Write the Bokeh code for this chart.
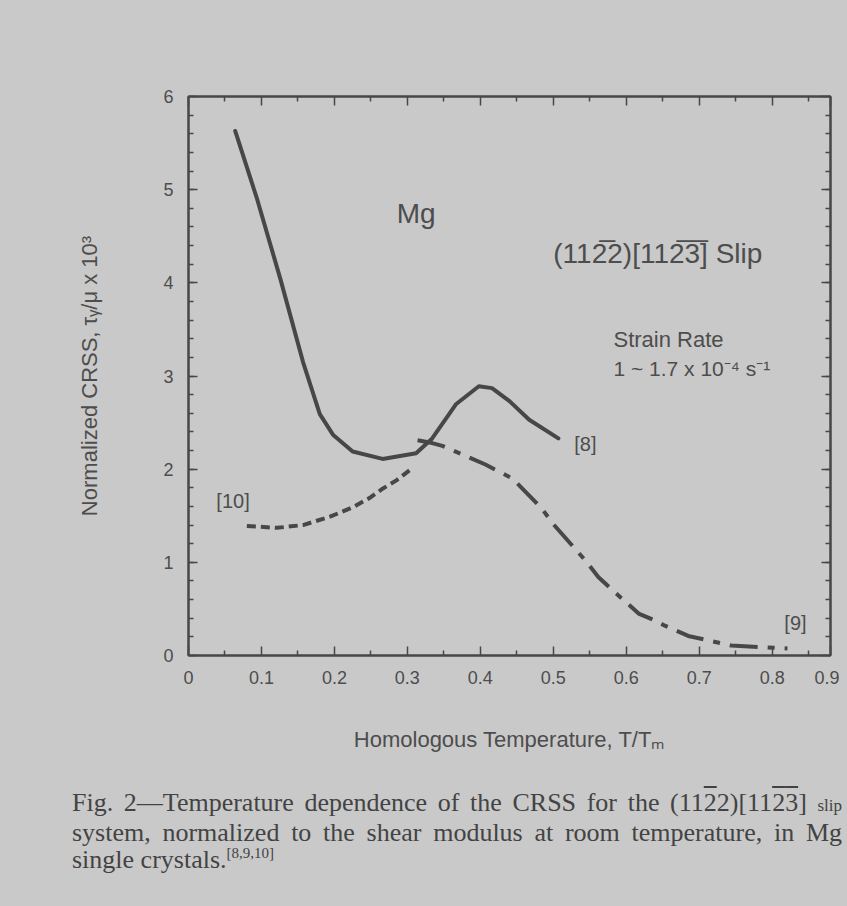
import numpy as np
from bokeh.plotting import figure
from bokeh.models import (LinearAxis, FixedTicker, Label, Div, GlobalInlineStyleSheet,
                          CustomLabelingPolicy)
from bokeh.layouts import column
from bokeh.embed import file_html
from bokeh.resources import INLINE

# ---- data ----
# [8] solid curve
x_ref8 = [0.064, 0.094, 0.126, 0.157, 0.180, 0.198, 0.225, 0.266, 0.312, 0.334,
          0.367, 0.398, 0.416, 0.440, 0.467, 0.507]
y_ref8 = [5.63, 4.90, 4.04, 3.15, 2.59, 2.37, 2.19, 2.11, 2.17, 2.33,
          2.70, 2.89, 2.87, 2.73, 2.53, 2.33]
# [9] dash-dot curve
x_ref9 = [0.314, 0.334, 0.348, 0.407, 0.444, 0.484, 0.500, 0.544, 0.562, 0.580,
          0.617, 0.635, 0.653, 0.685, 0.744, 0.821]
y_ref9 = [2.31, 2.28, 2.25, 2.05, 1.90, 1.58, 1.41, 1.02, 0.84, 0.71,
          0.45, 0.39, 0.32, 0.21, 0.107, 0.075]
# [10] dashed curve
x_ref10 = [0.080, 0.121, 0.157, 0.194, 0.225, 0.248, 0.266, 0.285, 0.305]
y_ref10 = [1.39, 1.37, 1.40, 1.49, 1.59, 1.69, 1.79, 1.88, 2.00]

x_tick_values = [0.0, 0.1, 0.2, 0.3, 0.4, 0.5, 0.6, 0.7, 0.8, 0.88]
x_tick_labels = ["0", "0.1", "0.2", "0.3", "0.4", "0.5", "0.6", "0.7", "0.8", "0.9"]
y_tick_values = [0, 1, 2, 3, 4, 5, 6]
y_tick_labels = ["0", "1", "2", "3", "4", "5", "6"]

BG = "#c9c9c9"
INK = "#474747"
TXT = "#4d4d4d"
SANS = "Liberation Sans"

p = figure(width=839, height=784, x_range=(0, 0.88), y_range=(0, 6),
           output_backend="svg", toolbar_location=None, title=None,
           min_border_left=188, min_border_right=6, min_border_top=96,
           min_border_bottom=129)
p.stylesheets = [GlobalInlineStyleSheet(css="body{background:%s;}" % BG)]
p.background_fill_color = BG
p.border_fill_color = BG
p.outline_line_color = INK
p.outline_line_width = 2
p.xgrid.visible = False
p.ygrid.visible = False

xt = FixedTicker(ticks=x_tick_values,
                 minor_ticks=list(np.round(np.arange(0.05, 0.88, 0.1), 3)))
yt = FixedTicker(ticks=y_tick_values,
                 minor_ticks=list(np.round(np.arange(0.2, 6.0, 0.2), 3)))

hide_labels = CustomLabelingPolicy(code="""
    for (const i of Array.from(indices)) { indices.unset(i) }
    return indices
""")


def style(ax, labels=True):
    ax.axis_line_color = INK
    ax.axis_line_width = 2
    ax.major_tick_line_color = INK
    ax.minor_tick_line_color = INK
    ax.major_tick_line_width = 1.5
    ax.minor_tick_line_width = 1.5
    ax.major_tick_in = 9
    ax.major_tick_out = 0
    ax.minor_tick_in = 5
    ax.minor_tick_out = 0
    if labels:
        ax.major_label_text_font = SANS
        ax.major_label_text_font_size = "18px"
        ax.major_label_text_color = TXT
        ax.axis_label_text_font = SANS
        ax.axis_label_text_font_size = "22px"
        ax.axis_label_text_font_style = "normal"
        ax.axis_label_text_color = TXT
    else:
        ax.major_label_policy = hide_labels
        ax.major_label_standoff = 0


xa = p.xaxis[0]
xa.ticker = xt
xa.major_label_overrides = {v: s for v, s in zip(x_tick_values, x_tick_labels)}
xa.axis_label = "Homologous Temperature, T/T\u2098"
xa.major_label_standoff = 15
xa.axis_label_standoff = 40
style(xa)

ya = p.yaxis[0]
ya.ticker = yt
ya.major_label_overrides = {v: s for v, s in zip(y_tick_values, y_tick_labels)}
ya.axis_label = "Normalized CRSS, \u03c4\u1d67/\u03bc x 10\u00b3"
ya.major_label_standoff = 15
ya.axis_label_standoff = 58
ya.major_label_orientation = "horizontal"
style(ya)

top = LinearAxis(ticker=xt)
style(top, labels=False)
p.add_layout(top, "above")
right = LinearAxis(ticker=yt)
style(right, labels=False)
p.add_layout(right, "right")

p.line(x_ref8, y_ref8, line_color=INK, line_width=4, line_join="round", line_cap="round")
p.line(x_ref9, y_ref9, line_color=INK, line_width=4, line_dash="28 10 7 10", line_join="round")
p.line(x_ref10, y_ref10, line_color=INK, line_width=4, line_dash="9 5", line_join="round")


def lab(x, y, t, size, align="center", base="middle"):
    p.add_layout(Label(x=x, y=y, text=t, text_font=SANS, text_font_size=size,
                       text_color=TXT, text_align=align, text_baseline=base))


lab(0.312, 4.74, "Mg", "28px")
lab(0.50, 4.31, "(11" + "2\u0305" + "2)[11" + "2\u0305" + "3\u0305" + "] Slip", "28px", "left", "alphabetic")
lab(0.5825, 3.39, "Strain Rate", "22px", "left", "alphabetic")
lab(0.5825, 3.08, "1 ~ 1.7 x 10\u207b\u2074 s\u207b\u00b9", "21px", "left", "alphabetic")
lab(0.061, 1.66, "[10]", "20px")
lab(0.544, 2.27, "[8]", "20px")
lab(0.832, 0.35, "[9]", "20px")

ov = '<span style="text-decoration:overline">%s</span>'
line_css = "text-align:justify;text-align-last:justify;white-space:normal;"
caption = (
    '<div style="margin-left:67px;width:770px;font-family:\'Liberation Serif\';'
    'font-size:26px;line-height:27px;color:#434343;">'
    '<div style="%s">Fig. 2\u2014Temperature dependence of the CRSS for the '
    '(11%s2)[11%s%s] <span style="font-size:17px">slip</span></div>'
    '<div style="%s">system, normalized to the shear modulus at room temperature, in Mg</div>'
    '<div>single crystals.<sup style="font-size:15px;line-height:0">[8,9,10]</sup></div>'
    '</div>'
) % (line_css, ov % "2", ov % "2", ov % "3", line_css)

cap = Div(text=caption, width=839, height=106,
          styles={"background-color": BG})

layout = column(p, cap, spacing=0, styles={"background-color": BG})

open("out.html", "w").write(file_html(layout, INLINE))
